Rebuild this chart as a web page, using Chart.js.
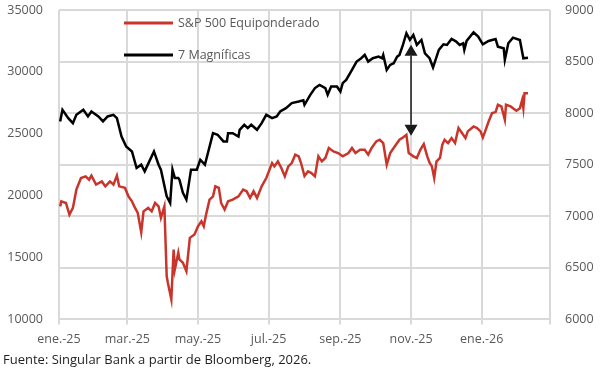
<!DOCTYPE html>
<html>
<head>
<meta charset="utf-8">
<script src="https://cdn.jsdelivr.net/npm/chart.js@4.4.1/dist/chart.umd.min.js"></script>
<style>
  html, body { margin: 0; padding: 0; background: #fff; }
</style>
</head>
<body>
<canvas id="line-chart" width="600" height="373"></canvas>
<script>
// 7 Magnificas (left axis)
const blackDates = [
  "2025-01-02","2025-01-04","2025-01-09","2025-01-13","2025-01-16","2025-01-22","2025-01-26","2025-01-29",
  "2025-02-04","2025-02-08","2025-02-12","2025-02-17","2025-02-20","2025-02-24","2025-02-28",
  "2025-03-05","2025-03-09","2025-03-13","2025-03-16","2025-03-20","2025-03-24","2025-03-28","2025-03-30",
  "2025-04-04","2025-04-07","2025-04-09","2025-04-11","2025-04-14","2025-04-15","2025-04-18","2025-04-21","2025-04-25","2025-04-30",
  "2025-05-03","2025-05-07","2025-05-14","2025-05-18","2025-05-23","2025-05-26","2025-05-27","2025-05-31",
  "2025-06-05","2025-06-06","2025-06-10","2025-06-13","2025-06-16","2025-06-21","2025-06-25","2025-06-29",
  "2025-07-04","2025-07-08","2025-07-11","2025-07-16","2025-07-21","2025-07-27","2025-07-31",
  "2025-08-01","2025-08-06","2025-08-10","2025-08-14","2025-08-19","2025-08-21","2025-08-24","2025-08-29",
  "2025-09-01","2025-09-03","2025-09-06","2025-09-11","2025-09-15","2025-09-19","2025-09-22","2025-09-25","2025-09-29",
  "2025-10-04","2025-10-07","2025-10-08","2025-10-11","2025-10-14","2025-10-17","2025-10-20","2025-10-22","2025-10-25","2025-10-28","2025-10-31",
  "2025-11-03","2025-11-06","2025-11-10","2025-11-13","2025-11-17","2025-11-20","2025-11-25","2025-11-29",
  "2025-12-02","2025-12-06","2025-12-10","2025-12-13","2025-12-16","2025-12-17","2025-12-19","2025-12-25","2025-12-29",
  "2026-01-02","2026-01-07","2026-01-13","2026-01-15","2026-01-20","2026-01-21","2026-01-24","2026-01-28",
  "2026-02-03","2026-02-06","2026-02-10"
];
const blackValues = [
  26000,26935,26265,25860,26530,26935,26400,26800,
  26400,26000,26400,26530,26265,24780,23970,
  23570,22230,22500,21960,22770,23570,22500,22100,
  19940,19400,22100,21430,21430,21290,20220,19680,22100,22100,
  22900,22500,25050,24920,24380,24380,25050,25050,
  24780,25320,25725,25460,25725,25320,25860,26530,
  26265,26400,26800,27070,27475,27600,27700,
  27340,28145,28690,28950,28690,28145,28820,28820,
  28410,29090,29355,30160,30830,31100,31370,30830,31100,
  31230,31100,31370,30160,30565,30700,31230,31370,32180,33120,32580,
  32985,32180,32580,31500,31100,30350,31775,32230,
  32180,32660,32450,32180,32310,31775,32500,33200,32850,
  32230,32500,32660,32040,31910,30970,32310,32770,
  32580,31100,31150
];

// S&P 500 Equiponderado (right axis)
const redDates = [
  "2025-01-02","2025-01-03","2025-01-07","2025-01-10","2025-01-13","2025-01-16","2025-01-20","2025-01-24","2025-01-27","2025-01-29",
  "2025-02-02","2025-02-07","2025-02-10","2025-02-14","2025-02-17","2025-02-20","2025-02-22","2025-02-27",
  "2025-03-02","2025-03-05","2025-03-07","2025-03-10","2025-03-13","2025-03-15","2025-03-19","2025-03-22","2025-03-25","2025-03-28","2025-03-30",
  "2025-04-02","2025-04-04","2025-04-05","2025-04-08","2025-04-10","2025-04-11","2025-04-14","2025-04-15","2025-04-18","2025-04-21","2025-04-24","2025-04-28",
  "2025-05-01","2025-05-04","2025-05-06","2025-05-08","2025-05-11","2025-05-14","2025-05-16","2025-05-19","2025-05-21","2025-05-24","2025-05-27","2025-05-31",
  "2025-06-05","2025-06-09","2025-06-12","2025-06-15","2025-06-18","2025-06-21","2025-06-25","2025-06-29",
  "2025-07-04","2025-07-06","2025-07-09","2025-07-12","2025-07-15","2025-07-18","2025-07-21","2025-07-24","2025-07-27","2025-07-29",
  "2025-08-01","2025-08-04","2025-08-07","2025-08-10","2025-08-13","2025-08-16","2025-08-19","2025-08-22","2025-08-26","2025-08-30",
  "2025-09-03","2025-09-08","2025-09-11","2025-09-14","2025-09-18","2025-09-22","2025-09-25","2025-09-28",
  "2025-10-02","2025-10-05","2025-10-08","2025-10-11","2025-10-14","2025-10-17","2025-10-20","2025-10-22","2025-10-25","2025-10-28","2025-10-30",
  "2025-11-03","2025-11-06","2025-11-09","2025-11-12","2025-11-15","2025-11-17","2025-11-19","2025-11-21","2025-11-23","2025-11-26","2025-11-28","2025-11-30",
  "2025-12-03","2025-12-06","2025-12-09","2025-12-12","2025-12-15","2025-12-18","2025-12-20","2025-12-25","2025-12-28","2025-12-31",
  "2026-01-02","2026-01-04","2026-01-07","2026-01-10","2026-01-13","2026-01-15","2026-01-18","2026-01-21","2026-01-22","2026-01-26","2026-01-28","2026-01-31",
  "2026-02-03","2026-02-05","2026-02-06","2026-02-07","2026-02-10"
];
const redValues = [
  7096,7145,7129,7016,7081,7258,7371,7387,7355,7394,
  7307,7338,7290,7338,7307,7394,7290,7275,
  7193,7145,7096,7033,6845,7048,7081,7048,7129,7096,6984,
  7096,6419,6355,6194,6678,6484,6646,6581,6549,6468,6791,6823,
  6903,6951,6903,7016,7161,7193,7290,7275,7129,7065,7145,7161,
  7193,7258,7242,7178,7242,7178,7290,7371,
  7516,7484,7532,7468,7387,7484,7516,7597,7581,7516,
  7390,7435,7419,7387,7581,7532,7565,7662,7629,7613,
  7581,7613,7662,7613,7645,7645,7597,7662,
  7726,7742,7710,7500,7613,7662,7710,7742,7764,7790,7613,
  7581,7565,7645,7700,7581,7520,7484,7371,7532,7565,7694,7742,
  7710,7758,7710,7855,7807,7758,7823,7871,7855,7823,
  7764,7823,7919,8000,8010,8081,8065,7936,8081,8065,8048,8023,
  8048,8129,8048,8194,8194
];

const xTickDates = ["2025-01-01","2025-03-01","2025-05-01","2025-07-01","2025-09-01","2025-11-01","2026-01-01","2026-03-01"];
const xTickLabels = ["ene.-25","mar.-25","may.-25","jul.-25","sep.-25","nov.-25","ene.-26",""];

// arrow between the two lines at nov.-25
const arrowDate = "2025-11-01";
const arrowTop = 32200;    // left axis
const arrowBottom = 7780;  // right axis

const footnote = "Fuente: Singular Bank a partir de Bloomberg, 2026.";

function dayOf(s) {
  const p = s.split("-").map(Number);
  return (Date.UTC(p[0], p[1] - 1, p[2]) - Date.UTC(2025, 0, 1)) / 86400000;
}
function toPoints(dates, values) {
  return dates.map((d, i) => ({ x: dayOf(d), y: values[i] }));
}

const tickFont = { family: "'Open Sans', sans-serif", size: 12.5 };
const tickColor = "#595959";
const gridColor = "#D9D9D9";

const arrowPlugin = {
  id: "arrow",
  afterDatasetsDraw(chart) {
    const ctx = chart.ctx;
    const x = chart.scales.x.getPixelForValue(dayOf(arrowDate));
    const y1 = chart.scales.yL.getPixelForValue(arrowTop);
    const y2 = chart.scales.yR.getPixelForValue(arrowBottom);
    const head = 11, half = 6.5;
    ctx.save();
    ctx.strokeStyle = "#1a1a1a";
    ctx.fillStyle = "#1a1a1a";
    ctx.lineWidth = 1.5;
    ctx.beginPath();
    ctx.moveTo(x, y1 + head);
    ctx.lineTo(x, y2 - head);
    ctx.stroke();
    ctx.beginPath();
    ctx.moveTo(x, y1);
    ctx.lineTo(x - half, y1 + head);
    ctx.lineTo(x + half, y1 + head);
    ctx.closePath();
    ctx.fill();
    ctx.beginPath();
    ctx.moveTo(x, y2);
    ctx.lineTo(x - half, y2 - head);
    ctx.lineTo(x + half, y2 - head);
    ctx.closePath();
    ctx.fill();
    ctx.restore();
  }
};

const legendPlugin = {
  id: "insideLegend",
  afterDraw(chart) {
    const ctx = chart.ctx;
    const a = chart.chartArea;
    ctx.save();
    ctx.font = "12.5px 'Open Sans', sans-serif";
    ctx.textBaseline = "middle";
    chart.data.datasets.forEach((ds, i) => {
      const y = a.top + 13 + i * 32;
      const x0 = a.left + 65;
      ctx.strokeStyle = ds.borderColor;
      ctx.lineWidth = 3;
      ctx.beginPath();
      ctx.moveTo(x0, y);
      ctx.lineTo(x0 + 49, y);
      ctx.stroke();
      ctx.fillStyle = tickColor;
      ctx.fillText(ds.label, x0 + 54, y);
    });
    ctx.restore();
  }
};

// y axes: fixed widths, no extra top/bottom padding from tick labels
function fitY(width) {
  return s => {
    s.width = width;
    s.paddingTop = 0;
    s.paddingBottom = 0;
  };
}

new Chart(document.getElementById("line-chart"), {
  type: "line",
  data: {
    datasets: [{
      label: "S&P 500 Equiponderado",
      data: toPoints(redDates, redValues),
      borderColor: "#C9342B",
      borderWidth: 2.5,
      pointRadius: 0,
      yAxisID: "yR"
    }, {
      label: "7 Magníficas",
      data: toPoints(blackDates, blackValues),
      borderColor: "#000000",
      borderWidth: 2.5,
      pointRadius: 0,
      yAxisID: "yL"
    }]
  },
  options: {
    responsive: false,
    animation: false,
    devicePixelRatio: 1,
    layout: { padding: { left: 3, right: 0, top: 10, bottom: 0 } },
    plugins: {
      legend: { display: false },
      tooltip: { enabled: false },
      title: {
        display: true,
        text: footnote,
        position: "bottom",
        align: "start",
        color: "#1F1F1F",
        font: { family: "'Open Sans', sans-serif", size: 13, weight: "normal" },
        padding: { top: 0, bottom: 5 }
      }
    },
    scales: {
      x: {
        type: "linear",
        min: 0,
        max: dayOf("2026-03-01"),
        afterBuildTicks: s => { s.ticks = xTickDates.map(d => ({ value: dayOf(d) })); },
        afterFit: s => { s.height = 33; },
        ticks: {
          callback: (v, i) => xTickLabels[i],
          autoSkip: false,
          maxRotation: 0,
          padding: 8,
          color: tickColor,
          font: tickFont
        },
        grid: { color: gridColor, lineWidth: 2, tickLength: 5 },
        border: { display: false }
      },
      yL: {
        position: "left",
        min: 10000,
        max: 35000,
        afterFit: fitY(56),
        ticks: { stepSize: 5000, padding: 16, color: tickColor, font: tickFont, callback: v => String(v) },
        grid: { display: false, drawTicks: false },
        border: { display: false }
      },
      yR: {
        position: "right",
        min: 6000,
        max: 9000,
        afterFit: fitY(50),
        ticks: { stepSize: 500, padding: 15, color: tickColor, font: tickFont, callback: v => String(v) },
        grid: { color: gridColor, lineWidth: 2, drawTicks: false },
        border: { display: false }
      }
    }
  },
  plugins: [arrowPlugin, legendPlugin]
});
</script>
</body>
</html>
